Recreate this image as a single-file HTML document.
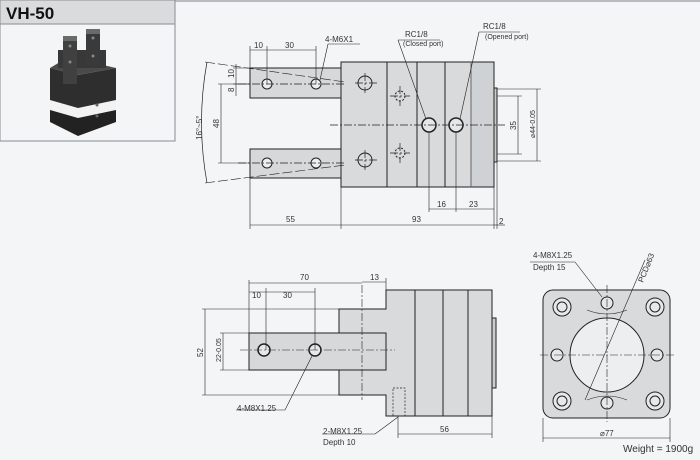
<!DOCTYPE html>
<html><head><meta charset="utf-8"><style>
body{margin:0;background:#f3f5f7;}
svg{display:block;font-family:"Liberation Sans",sans-serif;}
</style></head><body>
<svg width="700" height="460" viewBox="0 0 700 460" xmlns="http://www.w3.org/2000/svg">
<rect width="700" height="460" fill="#f3f5f7"/>
<line x1="0" y1="1" x2="700" y2="1" stroke="#b8bcc0" stroke-width="2"/>
<!-- title box -->
<rect x="0" y="0" width="175" height="24" fill="#d9dbdd"/>
<rect x="0" y="0" width="175" height="141" fill="none" stroke="#8a8d90" stroke-width="1"/>
<line x1="0" y1="24" x2="175" y2="24" stroke="#8a8d90"/>
<text x="6" y="19" font-size="17" font-weight="bold" fill="#111">VH-50</text>
<!-- photo -->
<g>
<polygon points="50,88 78,96 116,88 116,122 78,136 50,122" fill="#f2f2f2"/>
<polygon points="50,110 78,118 116,110 116,122 78,136 50,122" fill="#222"/>
<polygon points="50,68 78,75 116,68 116,100 78,108 50,100" fill="#2e2e2e"/>
<polygon points="50,68 78,75 116,68 90,62 60,62" fill="#4a4a4a"/>
<rect x="58" y="50" width="48" height="18" fill="#383838"/>
<rect x="63" y="36" width="14" height="48" fill="#404040"/>
<rect x="86" y="29" width="14" height="36" fill="#3a3a3a"/>
<rect x="63" y="36" width="14" height="5" fill="#6a6a6a"/>
<rect x="86" y="29" width="14" height="5" fill="#6a6a6a"/>
<circle cx="70" cy="46" r="1.5" fill="#888"/><circle cx="70" cy="62" r="1.5" fill="#888"/>
<circle cx="93" cy="38" r="1.5" fill="#888"/><circle cx="93" cy="56" r="1.5" fill="#888"/>
<circle cx="97" cy="105" r="1.5" fill="#666"/><circle cx="97" cy="116" r="1.5" fill="#666"/>
</g>
<g stroke="#222" stroke-width="1" fill="none">
<!-- TOP VIEW -->
<rect x="250" y="68" width="91" height="30" fill="#d6d8da"/>
<rect x="250" y="149" width="91" height="29" fill="#d6d8da"/>
<rect x="341" y="62" width="153" height="125" fill="#d8dadc"/>
<rect x="471" y="62" width="23" height="125" fill="#cfd2d5" stroke="none"/>
<rect x="341" y="62" width="153" height="125"/>
<rect x="494" y="88" width="3" height="74" fill="#ccc"/>
<line x1="387" y1="62" x2="387" y2="187"/>
<line x1="417" y1="62" x2="417" y2="187"/>
<line x1="445" y1="62" x2="445" y2="187"/>
<line x1="471" y1="62" x2="471" y2="187" stroke="#666"/>
<circle cx="267" cy="84" r="5" fill="#eee"/><circle cx="316" cy="84" r="5" fill="#eee"/>
<circle cx="267" cy="163" r="5" fill="#eee"/><circle cx="316" cy="163" r="5" fill="#eee"/>
<circle cx="365" cy="83" r="7"/><circle cx="365" cy="160" r="7"/>
<circle cx="400" cy="96" r="5" stroke-dasharray="2 1.5"/><circle cx="400" cy="153" r="5" stroke-dasharray="2 1.5"/>
<circle cx="429" cy="125" r="7" stroke-width="1.5" fill="#e4e6e8"/>
<circle cx="456" cy="125" r="7" stroke-width="1.5" fill="#e4e6e8"/>
<g stroke-width="0.7" stroke-dasharray="8 2 2 2">
<line x1="238" y1="84" x2="345" y2="84"/><line x1="238" y1="163" x2="345" y2="163"/>
<line x1="330" y1="125" x2="505" y2="125"/>
<line x1="355" y1="83" x2="378" y2="83"/><line x1="355" y1="160" x2="378" y2="160"/>
<line x1="365" y1="73" x2="365" y2="93"/><line x1="365" y1="150" x2="365" y2="170"/>
<line x1="390" y1="96" x2="410" y2="96"/><line x1="390" y1="153" x2="410" y2="153"/>
<line x1="400" y1="86" x2="400" y2="106"/><line x1="400" y1="143" x2="400" y2="163"/>
</g>
<line x1="205" y1="62" x2="345" y2="82" stroke-width="0.6" stroke-dasharray="10 3"/>
<line x1="205" y1="183" x2="345" y2="165" stroke-width="0.6" stroke-dasharray="10 3"/>
<path d="M207 62 Q196 122 207 183" stroke-width="0.7"/>
<g stroke-width="0.6">
<line x1="250" y1="46" x2="250" y2="68"/><line x1="267" y1="46" x2="267" y2="84"/><line x1="316" y1="46" x2="316" y2="84"/>
<line x1="250" y1="50" x2="316" y2="50"/>
<line x1="233" y1="68" x2="250" y2="68"/><line x1="233" y1="84" x2="250" y2="84"/><line x1="236" y1="64" x2="236" y2="96"/>
<line x1="218" y1="84" x2="250" y2="84"/><line x1="218" y1="163" x2="250" y2="163"/><line x1="221" y1="84" x2="221" y2="163"/>
<line x1="320" y1="80" x2="328" y2="44"/><line x1="328" y1="44" x2="360" y2="44"/>
<line x1="497" y1="96" x2="522" y2="96"/><line x1="497" y1="154" x2="522" y2="154"/><line x1="518" y1="96" x2="518" y2="154"/>
<line x1="497" y1="89" x2="541" y2="89"/><line x1="497" y1="161" x2="541" y2="161"/><line x1="537" y1="89" x2="537" y2="161"/>
<line x1="429" y1="132" x2="429" y2="212"/><line x1="456" y1="132" x2="456" y2="212"/>
<line x1="494" y1="187" x2="494" y2="229"/><line x1="497" y1="162" x2="497" y2="229"/>
<line x1="429" y1="209" x2="494" y2="209"/>
<line x1="250" y1="178" x2="250" y2="229"/><line x1="341" y1="187" x2="341" y2="229"/>
<line x1="250" y1="225" x2="494" y2="225"/><line x1="494" y1="225" x2="505" y2="225"/>
<line x1="398" y1="40" x2="426" y2="119"/><line x1="398" y1="40" x2="440" y2="40"/>
<line x1="479" y1="32" x2="460" y2="119"/><line x1="479" y1="32" x2="520" y2="32"/>
</g>
<!-- SIDE VIEW -->
<path d="M339 309 H386 V290 H492 V416 H386 V395 H339 Z" fill="#d8dadc"/>
<rect x="249" y="333" width="137" height="37" fill="#d6d8da"/>
<rect x="492" y="318" width="4" height="70" fill="#ccc"/>
<line x1="415" y1="290" x2="415" y2="416"/><line x1="443" y1="290" x2="443" y2="416"/><line x1="468" y1="290" x2="468" y2="416"/>
<circle cx="264" cy="350" r="6" stroke-width="1.5" fill="#e8e8e8"/><circle cx="315" cy="350" r="6" stroke-width="1.5" fill="#e8e8e8"/>
<rect x="393" y="388" width="12" height="28" stroke-dasharray="2 1.5" stroke-width="0.7"/>
<g stroke-width="0.6" stroke-dasharray="8 2 2 2">
<line x1="240" y1="350" x2="395" y2="350"/><line x1="362" y1="285" x2="362" y2="400"/>
</g>
<g stroke-width="0.6">
<line x1="249" y1="280" x2="249" y2="333"/><line x1="266" y1="288" x2="266" y2="350"/><line x1="315" y1="288" x2="315" y2="350"/>
<line x1="249" y1="283" x2="362" y2="283"/><line x1="362" y1="282" x2="386" y2="282"/><line x1="386" y1="278" x2="386" y2="290"/>
<line x1="249" y1="292" x2="315" y2="292"/>
<line x1="202" y1="309" x2="339" y2="309"/><line x1="202" y1="395" x2="339" y2="395"/><line x1="205" y1="309" x2="205" y2="395"/>
<line x1="220" y1="333" x2="249" y2="333"/><line x1="220" y1="370" x2="249" y2="370"/><line x1="223" y1="333" x2="223" y2="370"/>
<line x1="312" y1="356" x2="285" y2="410"/><line x1="236" y1="410" x2="285" y2="410"/>
<line x1="398" y1="417" x2="375" y2="434"/><line x1="322" y1="434" x2="375" y2="434"/>
<line x1="398" y1="416" x2="398" y2="438"/><line x1="492" y1="416" x2="492" y2="438"/><line x1="398" y1="434" x2="492" y2="434"/>
</g>
<!-- END VIEW -->
<rect x="543" y="290" width="127" height="128" rx="10" fill="#d8dadc"/>
<circle cx="607" cy="355" r="37" fill="#eceef0"/>
<g fill="#e8e8e8">
<circle cx="562" cy="307" r="9"/><circle cx="655" cy="307" r="9"/><circle cx="562" cy="401" r="9"/><circle cx="655" cy="401" r="9"/>
<circle cx="562" cy="307" r="5"/><circle cx="655" cy="307" r="5"/><circle cx="562" cy="401" r="5"/><circle cx="655" cy="401" r="5"/>
<circle cx="607" cy="303" r="6"/><circle cx="607" cy="403" r="6"/><circle cx="557" cy="355" r="6"/><circle cx="657" cy="355" r="6"/>
</g>
<g stroke-width="0.6" stroke-dasharray="8 2 2 2">
<line x1="540" y1="355" x2="675" y2="355"/><line x1="607" y1="285" x2="607" y2="422"/>
</g>
<g stroke-width="0.6">
<path d="M587 310 Q607 318 627 310"/><path d="M587 400 Q607 392 627 400"/>
<line x1="645" y1="260" x2="585" y2="400"/>
<line x1="602" y1="297" x2="575" y2="262"/><line x1="530" y1="262" x2="575" y2="262"/>
<line x1="543" y1="418" x2="543" y2="442"/><line x1="670" y1="418" x2="670" y2="442"/><line x1="543" y1="438" x2="670" y2="438"/>
</g>
</g>
<g font-size="8" fill="#333">
<text x="254" y="48">10</text><text x="285" y="48">30</text><text x="325" y="42">4-M6X1</text>
<text x="405" y="37">RC1/8</text><text x="403" y="46" font-size="7">(Closed port)</text>
<text x="483" y="29">RC1/8</text><text x="485" y="39" font-size="7">(Opened port)</text>
<text x="286" y="222">55</text><text x="412" y="222">93</text><text x="437" y="207">16</text><text x="469" y="207">23</text><text x="499" y="224">2</text>
<text transform="translate(234,78) rotate(-90)">10</text><text transform="translate(234,92) rotate(-90)">8</text>
<text transform="translate(219,128) rotate(-90)">48</text>
<text transform="translate(202,140) rotate(-90)">16°~5°</text>
<text transform="translate(516,130) rotate(-90)">35</text>
<text transform="translate(535,138) rotate(-90)" font-size="7">⌀44-0.05</text>
<text x="300" y="280">70</text><text x="370" y="280">13</text>
<text x="252" y="298">10</text><text x="283" y="298">30</text>
<text transform="translate(203,357) rotate(-90)">52</text>
<text transform="translate(221,362) rotate(-90)" font-size="7">22-0.05</text>
<text x="237" y="411">4-M8X1.25</text>
<text x="323" y="434">2-M8X1.25</text><text x="323" y="445">Depth 10</text>
<text x="440" y="432">56</text>
<text x="533" y="258">4-M8X1.25</text><text x="533" y="270">Depth 15</text>
<text transform="translate(643,283) rotate(-68)">PCD⌀63</text>
<text x="600" y="436">⌀77</text>
<text x="623" y="452" font-size="10">Weight = 1900g</text>
</g>
</svg>
</body></html>
